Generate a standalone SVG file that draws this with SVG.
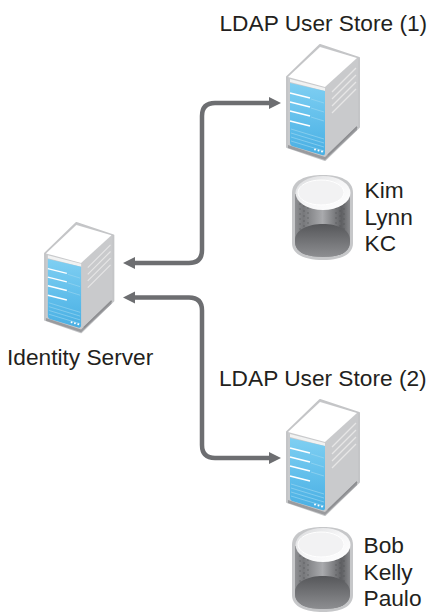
<svg xmlns="http://www.w3.org/2000/svg" width="428" height="614" viewBox="0 0 428 614">
<style>
text{font-family:"Liberation Sans",Arial,sans-serif;font-size:22.7px;fill:#231f20}
.conn{fill:none;stroke:#6d6e71;stroke-width:4.5}
.ah{fill:#6d6e71}
.bar{stroke:#fff;stroke-width:1.5;fill:none}
.sl{stroke:#e6e6e6;stroke-width:1.2;fill:none}
.bl{stroke:#9dd8f2;stroke-width:.8;fill:none;opacity:.8}
.tex{stroke:#4f5052;stroke-width:1;stroke-dasharray:2 3;fill:none;opacity:.5}
</style>
<defs>
<linearGradient id="blue" x1="0" y1="0" x2="0" y2="1"><stop offset="0" stop-color="#7fcff2"/><stop offset=".6" stop-color="#5dbcea"/><stop offset="1" stop-color="#4aafe3"/></linearGradient>
<linearGradient id="cyl" x1="0" y1="0" x2="1" y2="0"><stop offset="0" stop-color="#8f9093"/><stop offset=".15" stop-color="#77787b"/><stop offset=".5" stop-color="#a9aaad"/><stop offset=".85" stop-color="#5f6063"/><stop offset="1" stop-color="#8a8b8e"/></linearGradient>
<linearGradient id="cyld" x1="0" y1="0" x2="0" y2="1"><stop offset="0" stop-color="#56575a"/><stop offset="1" stop-color="#8d8e91"/></linearGradient>
<linearGradient id="lid" x1="0" y1="0" x2="1" y2="1"><stop offset="0" stop-color="#d9dadc"/><stop offset=".5" stop-color="#f6f6f7"/><stop offset="1" stop-color="#fff"/></linearGradient>
<symbol id="srv" overflow="visible">
<path d="M33 0L72 13V82L38 115L0 102V32Z" fill="#c9cacc" stroke="#c4c5c7" stroke-width="2" stroke-linejoin="round"/>
<path d="M1 100L38 112L70 81V85L38 115L1 103Z" fill="#9a9b9e"/>
<path d="M33 2L70 13L38 42L1 32Z" fill="#fff"/>
<path d="M3 34L38 43V46L3 37Z" fill="#f1f2f2"/>
<path d="M3 38L38 46V108Q38 111 35 110L5 101Q3 100 3 98Z" fill="url(#blue)"/>
<g class="bar"><path d="M3 48L23 53"/><path d="M3 57L23 62"/><path d="M3 66L23 71"/><path d="M3 76L23 81"/></g>
<g class="bl"><path d="M4 84L37 94"/><path d="M4 88L37 98"/><path d="M4 92L37 102"/><path d="M4 96L37 106"/><path d="M24 54L37 58"/><path d="M24 63L37 67"/><path d="M24 72L37 76"/></g>
<g class="sl"><path d="M45 47L69 23"/><path d="M45 54L69 30"/><path d="M45 61L69 37"/><path d="M45 68L69 44"/></g>
<path d="M41 110L70 82" stroke="#8d8e91" stroke-width="1.500" fill="none"/>
<g fill="#fff"><circle cx="28" cy="104.500" r="1"/><circle cx="31.500" cy="105.500" r="1"/><circle cx="35" cy="106.500" r="1"/></g>
</symbol>
<symbol id="cy" overflow="visible">
<path d="M0 18C0 5 14 0 31 0S61 5 61 18V68C61 80 48 85 31 85S0 80 0 68Z" fill="#c6c7c9"/>
<path d="M3 19H58V67C58 78 46 82 31 82S3 78 3 67Z" fill="url(#cyl)"/>
<g class="tex"><path d="M8 28V56"/><path d="M12 30V52"/><path d="M16 32V50"/><path d="M44 32V50"/><path d="M48 30V52"/><path d="M52 28V56"/></g>
<path d="M3 65C3 55 16 49 31 49S58 55 58 65V67C58 78 46 82 31 82S3 78 3 67Z" fill="url(#cyld)"/>
<ellipse cx="31" cy="18" rx="27.500" ry="17" fill="url(#lid)"/>
<ellipse cx="29" cy="17.500" rx="23" ry="12.500" fill="#f2f2f3" stroke="#fff"/>
</symbol>
</defs>
<g id="connectors">
<path class="conn" d="M132 263H189Q202 263 202 250V116Q202 103 215 103H272"/>
<path class="ah" d="M123 263L135 257V269Z"/><path class="ah" d="M281 103L269 97V109Z"/>
<path class="conn" d="M132 297.500H189Q202 297.500 202 310.500V445Q202 458 215 458H272"/>
<path class="ah" d="M123 297.500L135 291.500V303.500Z"/><path class="ah" d="M281 458L269 452V464Z"/>
</g>
<g id="identity-server"><use href="#srv" transform="translate(45 223) scale(.95)"/><text x="7" y="365">Identity Server</text></g>
<g id="store1"><use href="#srv" x="287" y="45"/><text x="219.500" y="31">LDAP User Store (1)</text></g>
<g id="cyl1"><use href="#cy" x="292" y="175"/><text x="364.500" y="198">Kim</text><text x="364.500" y="225">Lynn</text><text x="364.500" y="251">KC</text></g>
<g id="store2"><use href="#srv" x="287" y="400"/><text x="219" y="385.500">LDAP User Store (2)</text></g>
<g id="cyl2"><use href="#cy" x="292" y="527"/><text x="363.500" y="552.500">Bob</text><text x="363.500" y="579.500">Kelly</text><text x="363.500" y="606">Paulo</text></g>
</svg>
